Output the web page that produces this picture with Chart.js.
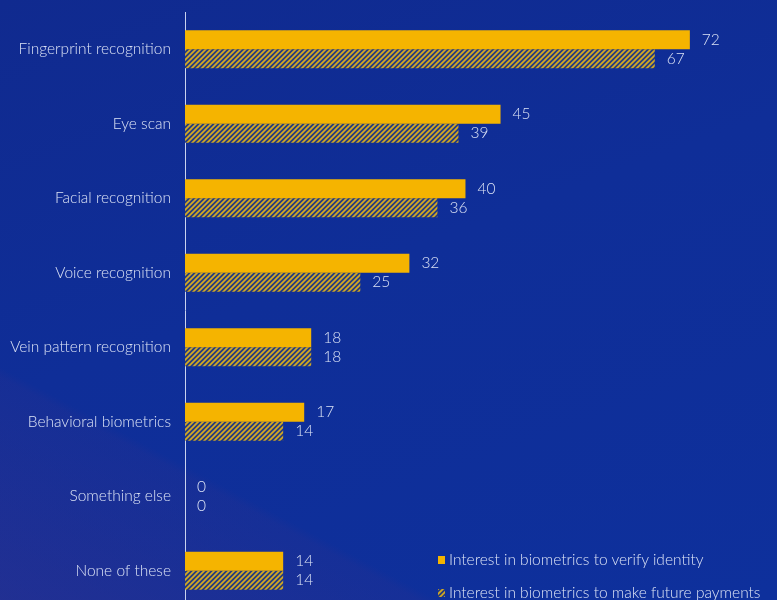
<!DOCTYPE html>
<html>
<head>
<meta charset="utf-8">
<script src="https://cdn.jsdelivr.net/npm/chart.js@4/dist/chart.umd.min.js"></script>
<style>
  html, body { margin: 0; padding: 0; overflow: hidden; }
  body {
    width: 777px; height: 600px; position: relative;
    background:
      linear-gradient(28deg, rgba(52,48,140,0.5) 0%, rgba(52,48,140,0.2) 22%, rgba(0,0,0,0) 23%),
      linear-gradient(160deg, #102a8f 0%, #0f2e98 45%, #0e309c 100%);
    font-family: Lato, "Open Sans", sans-serif;
  }
  #wrap { position: absolute; left: 0; top: 0; width: 777px; height: 608px; }
  .legend { position: absolute; left: 438px; color: #dbe2f5; font-size: 15.5px; font-weight: 300; line-height: 18px; white-space: nowrap; }
  .legend .sw { display: inline-block; width: 7px; height: 8px; margin-right: 4px; vertical-align: 1px; }
</style>
</head>
<body>
<div id="wrap"><canvas id="c" width="777" height="608"></canvas></div>
<div class="legend" style="top:550px"><span class="sw" style="background:#f5b400"></span>Interest in biometrics to verify identity</div>
<div class="legend" style="top:583px"><span class="sw" id="hatchSw"></span>Interest in biometrics to make future payments</div>
<script>
// Survey categories and the two series (percent of respondents)
const categories = [
  'Fingerprint recognition', 'Eye scan', 'Facial recognition', 'Voice recognition',
  'Vein pattern recognition', 'Behavioral biometrics', 'Something else', 'None of these'
];
const verifyIdentity = [72, 45, 40, 32, 18, 17, 0, 14];
const futurePayments = [67, 39, 36, 25, 18, 14, 0, 14];
const seriesNames = [
  'Interest in biometrics to verify identity',
  'Interest in biometrics to make future payments'
];

const YELLOW = '#f5b400';
const TEXT = '#dbe2f5';
const FONT = 'Lato, "Open Sans", sans-serif';

// Diagonal yellow hatch on navy
function makeHatch() {
  const s = 5;
  const p = document.createElement('canvas');
  p.width = s; p.height = s;
  const g = p.getContext('2d');
  g.fillStyle = '#263c80';
  g.fillRect(0, 0, s, s);
  g.strokeStyle = '#d4aa22';
  g.lineWidth = 1.7;
  g.beginPath();
  g.moveTo(-1, s + 1); g.lineTo(s + 1, -1);
  g.moveTo(-1, 1); g.lineTo(1, -1);
  g.moveTo(s - 1, s + 1); g.lineTo(s + 1, s - 1);
  g.stroke();
  return p;
}
const hatchCanvas = makeHatch();
const hatch = document.getElementById('c').getContext('2d').createPattern(hatchCanvas, 'repeat');
document.getElementById('hatchSw').style.background = 'url(' + hatchCanvas.toDataURL() + ')';

// Value labels to the right of each bar
const valueLabels = {
  id: 'valueLabels',
  afterDatasetsDraw(chart) {
    const ctx = chart.ctx;
    ctx.save();
    ctx.font = '300 15.5px ' + FONT;
    ctx.fillStyle = TEXT;
    ctx.textAlign = 'left';
    ctx.textBaseline = 'middle';
    chart.data.datasets.forEach((ds, i) => {
      chart.getDatasetMeta(i).data.forEach((bar, j) => {
        ctx.fillText(String(ds.data[j]), bar.x + 12, bar.y);
      });
    });
    ctx.restore();
  }
};

new Chart(document.getElementById('c'), {
  type: 'bar',
  data: {
    labels: categories,
    datasets: [
      { label: seriesNames[0], data: verifyIdentity, backgroundColor: YELLOW },
      { label: seriesNames[1], data: futurePayments, backgroundColor: hatch }
    ]
  },
  options: {
    indexAxis: 'y',
    responsive: false,
    animation: false,
    layout: { padding: { top: 12, right: 3, bottom: 0, left: 0 } },
    datasets: { bar: { categoryPercentage: 0.51, barPercentage: 1.0 } },
    plugins: { legend: { display: false }, tooltip: { enabled: false } },
    scales: {
      x: { min: 0, max: 84, display: false },
      y: {
        grid: { display: false, drawTicks: false },
        border: { display: true, color: '#c9d2ee', width: 1 },
        ticks: { color: TEXT, padding: 14, font: { size: 15.5, weight: 300, family: FONT } },
        afterFit(scale) {
          scale.width = 185;
          scale.paddingTop = 0;
          scale.paddingBottom = 0;
        }
      }
    }
  },
  plugins: [valueLabels]
});
</script>
</body>
</html>
